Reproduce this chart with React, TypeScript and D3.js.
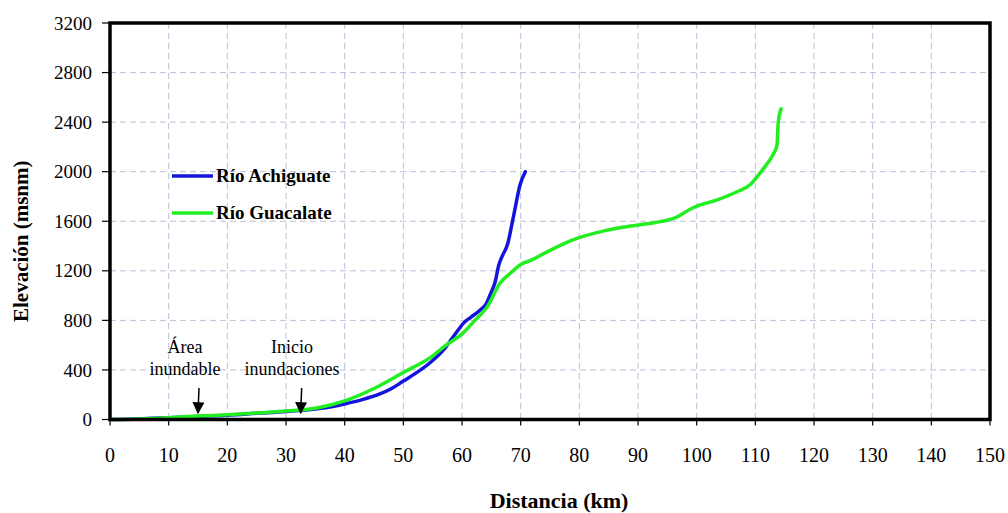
import React from "react";
import * as d3 from "d3";

const xTicks = [0, 10, 20, 30, 40, 50, 60, 70, 80, 90, 100, 110, 120, 130, 140, 150];
const yTicks = [0, 400, 800, 1200, 1600, 2000, 2400, 2800, 3200];

const achiguate: [number, number][] = [
  [0, 0], [5, 5], [10, 15], [15, 25], [20, 35], [25, 50], [30, 65], [35, 85], [38, 105],
  [40, 125], [43, 160], [46, 206], [48, 250], [50, 310], [52, 370], [54.5, 456], [57, 570],
  [59, 700], [60.3, 780], [61.5, 825], [63, 880], [64.2, 940], [65, 1030], [65.6, 1102],
  [66.3, 1250], [66.8, 1313], [67.8, 1420], [68.4, 1550], [69, 1692], [69.9, 1894], [70.8, 2000],
];

const guacalate: [number, number][] = [
  [0, 0], [5, 5], [10, 15], [15, 28], [20, 38], [25, 52], [30, 68], [35, 90], [40, 150],
  [45, 250], [50, 380], [54.5, 497], [57, 590], [60.2, 699], [62, 790], [64.3, 909],
  [66.5, 1102], [68.5, 1191], [69.9, 1248], [72, 1290], [74.5, 1353], [78.9, 1450],
  [83.5, 1514], [86.9, 1547], [90.3, 1571], [93, 1590], [96.3, 1628], [99.4, 1709],
  [103.5, 1773], [106.9, 1838], [109.1, 1894], [110.3, 1959], [111.6, 2039], [113, 2136],
  [113.7, 2217], [113.9, 2395], [114.4, 2508],
];

const series = [
  { name: "Río Achiguate", color: "#1414dc", data: achiguate },
  { name: "Río Guacalate", color: "#22ee22", data: guacalate },
];

const annotations = [
  { lines: ["Área", "inundable"], textX: 185, arrowX: 15 },
  { lines: ["Inicio", "inundaciones"], textX: 292, arrowX: 32.5 },
];

const W = 1008;
const H = 513;
const M = { left: 110, right: 990, top: 23, bottom: 419.5 };
const font = "Liberation Serif, Times New Roman, serif";
const tf = { fontFamily: font };

export default function App() {
  const x = d3.scaleLinear().domain([0, 150]).range([M.left, M.right]);
  const y = d3.scaleLinear().domain([0, 3200]).range([M.bottom, M.top]);
  const line = d3
    .line<[number, number]>()
    .x((d) => x(d[0]))
    .y((d) => y(d[1]))
    .curve(d3.curveMonotoneX);

  return (
    <svg
      width={W}
      height={H}
      style={{ position: "absolute", left: 0, top: 0, background: "#fff", fontFamily: font }}
    >
      <rect x={0} y={0} width={W} height={H} fill="#fff" />
      {xTicks.slice(1, -1).map((t) => (
        <line key={"gx" + t} x1={x(t)} x2={x(t)} y1={M.top} y2={M.bottom}
          stroke="#b9c1d9" strokeWidth={1} strokeDasharray="6,4" />
      ))}
      {yTicks.slice(1, -1).map((t) => (
        <line key={"gy" + t} x1={M.left} x2={M.right} y1={y(t)} y2={y(t)}
          stroke="#b9c1d9" strokeWidth={1} strokeDasharray="6,4" />
      ))}
      {series.map((s) => (
        <path key={s.name} d={line(s.data) || ""} fill="none" stroke={s.color}
          strokeWidth={3.5} strokeLinejoin="round" strokeLinecap="round" />
      ))}
      <rect x={M.left} y={M.top} width={M.right - M.left} height={M.bottom - M.top}
        fill="none" stroke="#000" strokeWidth={3.5} />
      {yTicks.map((t) => (
        <g key={"yt" + t}>
          <line x1={M.left - 8} x2={M.left} y1={y(t)} y2={y(t)} stroke="#000" strokeWidth={1.2} />
          <text x={92} y={y(t)} dy="0.35em" textAnchor="end" fontSize={19} style={tf}>{t}</text>
        </g>
      ))}
      {xTicks.map((t) => (
        <g key={"xt" + t}>
          <line x1={x(t)} x2={x(t)} y1={M.bottom} y2={M.bottom + 6} stroke="#000" strokeWidth={1.2} />
          <text x={x(t)} y={462} textAnchor="middle" fontSize={20} style={tf}>{t}</text>
        </g>
      ))}
      <text x={559} y={508} textAnchor="middle" fontSize={22} fontWeight="bold" style={tf}>Distancia (km)</text>
      <text transform={`translate(28,${(M.top + M.bottom) / 2 + 20}) rotate(-90)`} textAnchor="middle"
        fontSize={21} fontWeight="bold" style={tf}>Elevación (msnm)</text>
      {series.map((s, i) => (
        <g key={"lg" + s.name}>
          <line x1={172} x2={213} y1={176 + i * 37} y2={176 + i * 37} stroke={s.color} strokeWidth={3.5} />
          <text x={216} y={176 + i * 37} dy="0.33em" fontSize={19} fontWeight="bold" style={tf}>{s.name}</text>
        </g>
      ))}
      <defs>
        <marker id="arr" viewBox="0 0 10 10" refX={9} refY={5} markerWidth={13} markerHeight={12}
          markerUnits="userSpaceOnUse" orient="auto">
          <path d="M0,0 L10,5 L0,10 z" fill="#000" />
        </marker>
      </defs>
      {annotations.map((a) => (
        <g key={"an" + a.lines[0]}>
          {a.lines.map((l, i) => (
            <text key={l} x={a.textX} y={353 + i * 22} textAnchor="middle" fontSize={18} style={tf}>{l}</text>
          ))}
          <line x1={x(a.arrowX) + 1} x2={x(a.arrowX)} y1={388} y2={413} stroke="#000" strokeWidth={1.5}
            markerEnd="url(#arr)" />
        </g>
      ))}
    </svg>
  );
}
